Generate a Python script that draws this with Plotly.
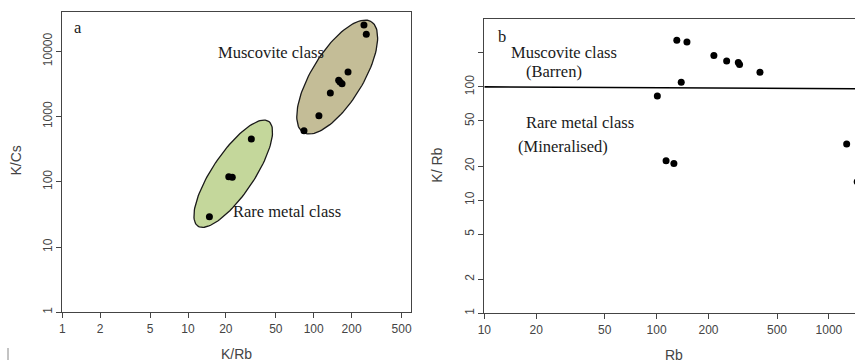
import numpy as np
import plotly.graph_objects as go

# ---------------- data ----------------
# Panel a : K/Rb vs K/Cs
a_krb = [14.8, 21.1, 22.5, 31.9, 83.7, 110, 135.6, 158, 162, 168, 187.5, 251, 262]
a_kcs = [29.2, 120, 117, 453, 607, 1030, 2296, 3597, 3388, 3189, 4820, 25300, 18230]
# Panel b : Rb vs K/Rb
b_rb = [131, 150, 215, 255, 298, 303, 398, 139, 101, 113.5, 126, 1268, 1459]
b_krb = [259, 249, 189, 169, 164, 158, 135, 110, 83, 22.3, 21.1, 31.3, 14.5]
# dividing line in panel b
line_rb = [10, 1420]
line_krb = [100, 96.4]

a_xticks = [1, 2, 5, 10, 20, 50, 100, 200, 500]
a_yticks = [1, 10, 100, 1000, 10000]
b_xticks = [10, 20, 50, 100, 200, 500, 1000]
b_yticks = [1, 2, 5, 10, 20, 50, 100, 200]
b_yticktext = ["1", "2", "5", "10", "20", "50", "100", ""]

# ---------------- layout geometry ----------------
W, H = 855, 363
ax_l, ax_r, ax_t, ax_b = 62.3, 411.0, 11.7, 312.3
bx_l, bx_r, bx_t, bx_b = 484.3, 855.0, 19.0, 313.3
a_xrange = [0, 2.774]
a_yrange = [0, 4.607]
b_xrange = [1, 1 + (bx_r - bx_l) / 172.3]
b_yrange = [0, 2.6]

a_pxdx = (ax_r - ax_l) / (a_xrange[1] - a_xrange[0])
a_pxdy = (ax_b - ax_t) / (a_yrange[1] - a_yrange[0])


def ellipse(cx, cy, a_px, b_px, ang_deg, n=120):
    t = np.linspace(0, 2 * np.pi, n)
    th = np.radians(ang_deg)
    dx = a_px * np.cos(th) * np.cos(t) - b_px * np.sin(th) * np.sin(t)
    dy = a_px * np.sin(th) * np.cos(t) + b_px * np.cos(th) * np.sin(t)
    lx = np.log10(cx) + dx / a_pxdx
    ly = np.log10(cy) + dy / a_pxdy
    return 10 ** lx, 10 ** ly


fig = go.Figure()

# ellipses
gx, gy = ellipse(22.9, 133, 63.2, 20.8, 56)
fig.add_trace(go.Scatter(x=gx, y=gy, mode="lines", fill="toself",
                         fillcolor="#c4d79b", line=dict(color="#1a1a1a", width=1.3),
                         xaxis="x", yaxis="y", hoverinfo="skip"))
bxe, bye = ellipse(153.8, 4036, 65, 25.6, 58.4)
fig.add_trace(go.Scatter(x=bxe, y=bye, mode="lines", fill="toself",
                         fillcolor="#c4bd97", line=dict(color="#1a1a1a", width=1.3),
                         xaxis="x", yaxis="y", hoverinfo="skip"))

fig.add_trace(go.Scatter(x=a_krb, y=a_kcs, mode="markers",
                         marker=dict(color="black", size=7),
                         xaxis="x", yaxis="y"))

fig.add_trace(go.Scatter(x=line_rb, y=line_krb, mode="lines",
                         line=dict(color="black", width=1.6),
                         xaxis="x2", yaxis="y2"))
fig.add_trace(go.Scatter(x=b_rb, y=b_krb, mode="markers",
                         marker=dict(color="black", size=7),
                         xaxis="x2", yaxis="y2"))

axcol = "#444444"
tickfont = dict(family="Liberation Sans, Arial, sans-serif", size=12, color="#444444")
common = dict(type="log", showgrid=False, zeroline=False, showline=True,
              linecolor=axcol, linewidth=1, ticks="outside", ticklen=5,
              tickcolor=axcol, tickwidth=1, tickfont=tickfont, automargin=False)

fig.update_layout(
    width=W, height=H, margin=dict(l=0, r=0, t=0, b=0),
    paper_bgcolor="white", plot_bgcolor="white", showlegend=False,
    xaxis=dict(domain=[ax_l / W, ax_r / W], range=a_xrange, anchor="y",
               tickvals=a_xticks, ticktext=[str(v) for v in a_xticks],
               mirror=True, **common),
    yaxis=dict(domain=[1 - ax_b / H, 1 - ax_t / H], range=a_yrange, anchor="x",
               tickvals=a_yticks, ticktext=[str(v) for v in a_yticks],
               tickangle=-90, mirror=True, **common),
    xaxis2=dict(domain=[bx_l / W, 1], range=b_xrange, anchor="y2",
                tickvals=b_xticks, ticktext=[str(v) for v in b_xticks],
                mirror=True, **common),
    yaxis2=dict(domain=[1 - bx_b / H, 1 - bx_t / H], range=b_yrange, anchor="x2",
                tickvals=b_yticks, ticktext=b_yticktext,
                tickangle=-90, mirror=False, **common),
)

serif = dict(family="Liberation Serif, Times New Roman, serif", size=16.5, color="#1a1a1a")
ann = [
    ("a", "x", "y", 0.125, 4.372),
    ("Muscovite class", "x", "y", 1.658, 3.985),
    ("Rare metal class", "x", "y", 1.788, 1.552),
    ("b", "x2", "y2", 1.101, 2.443),
    ("Muscovite class", "x2", "y2", 1.464, 2.306),
    ("(Barren)", "x2", "y2", 1.403, 2.132),
    ("Rare metal class", "x2", "y2", 1.558, 1.684),
    ("(Mineralised)", "x2", "y2", 1.454, 1.472),
]
for txt, xr, yr, x, y in ann:
    fig.add_annotation(text=txt, xref=xr, yref=yr, x=x, y=y, showarrow=False,
                       xanchor="center", yanchor="middle", font=serif)

sans = dict(family="Liberation Sans, Arial, sans-serif", size=14, color="#444444")
titles = [
    ("K/Cs", 15, 160.5, -90),
    ("K/Rb", 236.7, 354, 0),
    ("Rb", 674.3, 354.5, 0),
    ("K/ Rb", 436.7, 165, -90),
]
for txt, px, py, ang in titles:
    fig.add_annotation(text=txt, xref="paper", yref="paper", x=px / W, y=1 - py / H,
                       showarrow=False, xanchor="center", yanchor="middle",
                       textangle=ang, font=sans)

# small stray mark at lower-left of the original image
fig.add_shape(type="line", xref="paper", yref="paper",
              x0=8 / W, x1=8 / W, y0=1 - 348 / H, y1=1 - 360 / H,
              line=dict(color="#888888", width=1))

fig.write_html("out.html", config={"displayModeBar": False},
               post_script="document.body.style.margin='0';document.body.style.overflow='hidden';")
